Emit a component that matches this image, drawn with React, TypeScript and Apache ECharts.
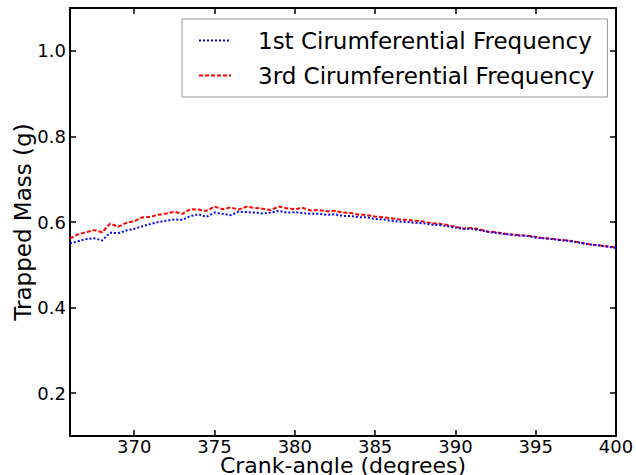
import React, { useEffect, useRef } from "react";
import * as echarts from "echarts";

const crankAngle = [
  366.0, 366.5, 367.0, 367.5, 368.0, 368.5, 369.0, 369.5, 370.0, 370.5,
  371.0, 371.5, 372.0, 372.5, 373.0, 373.5, 374.0, 374.5, 375.0, 375.5,
  376.0, 376.5, 377.0, 377.5, 378.0, 378.5, 379.0, 379.5, 380.0, 380.5,
  381.0, 381.5, 382.0, 382.5, 383.0, 383.5, 384.0, 384.5, 385.0, 385.5,
  386.0, 386.5, 387.0, 387.5, 388.0, 388.5, 389.0, 389.5, 390.0, 390.5,
  391.0, 391.5, 392.0, 392.5, 393.0, 393.5, 394.0, 394.5, 395.0, 395.5,
  396.0, 396.5, 397.0, 397.5, 398.0, 398.5, 399.0, 399.5, 400.0,
];

const firstCircumferential = [
  0.550, 0.555, 0.560, 0.562, 0.557, 0.575, 0.574, 0.580, 0.584, 0.590,
  0.595, 0.600, 0.603, 0.606, 0.605, 0.614, 0.618, 0.612, 0.622, 0.619,
  0.616, 0.624, 0.623, 0.622, 0.620, 0.622, 0.626, 0.622, 0.623, 0.621,
  0.619, 0.619, 0.617, 0.618, 0.614, 0.614, 0.611, 0.611, 0.607, 0.606,
  0.603, 0.601, 0.600, 0.598, 0.597, 0.594, 0.593, 0.590, 0.587, 0.584,
  0.584, 0.581, 0.577, 0.575, 0.572, 0.570, 0.568, 0.567, 0.564, 0.562,
  0.560, 0.558, 0.556, 0.553, 0.550, 0.547, 0.545, 0.542, 0.540,
];

const thirdCircumferential = [
  0.562, 0.571, 0.576, 0.581, 0.576, 0.596, 0.589, 0.598, 0.602, 0.611,
  0.612, 0.617, 0.620, 0.624, 0.619, 0.630, 0.629, 0.626, 0.636, 0.630,
  0.634, 0.629, 0.636, 0.633, 0.631, 0.628, 0.636, 0.632, 0.630, 0.633,
  0.627, 0.628, 0.625, 0.626, 0.622, 0.621, 0.617, 0.616, 0.613, 0.611,
  0.609, 0.606, 0.605, 0.603, 0.601, 0.597, 0.596, 0.593, 0.589, 0.585,
  0.586, 0.583, 0.578, 0.576, 0.573, 0.571, 0.569, 0.568, 0.565, 0.562,
  0.561, 0.558, 0.557, 0.554, 0.550, 0.547, 0.545, 0.543, 0.540,
];

const xTicks = [370, 375, 380, 385, 390, 395, 400];
const yTicks = [0.2, 0.4, 0.6, 0.8, 1.0];

const seriesNames = ["1st Cirumferential Frequency", "3rd Cirumferential Frequency"];

const FONT = "DejaVu Sans";

export default function App() {
  const ref = useRef<HTMLDivElement>(null);

  useEffect(() => {
    if (!ref.current) return;
    const chart = echarts.init(ref.current, null, { renderer: "svg" });

    const axisLine = { show: true, lineStyle: { color: "#000", width: 2 } };
    const tickIn = { show: true, inside: true, length: 6, lineStyle: { color: "#000", width: 1.5 } };

    chart.setOption({
      animation: false,
      backgroundColor: "#fff",
      grid: { left: 70, right: 20, top: 8, bottom: 39, containLabel: false, outerBoundsMode: "none" },
      legend: {
        left: 182,
        top: 19,
        orient: "vertical",
        padding: [10, 13, 10, 16],
        itemGap: 12,
        itemWidth: 32,
        itemHeight: 14,
        borderColor: "#999",
        borderWidth: 1,
        backgroundColor: "#fff",
        itemStyle: { opacity: 0 },
        textStyle: {
          fontFamily: FONT,
          fontSize: 23,
          color: "#000",
          lineHeight: 22,
          padding: [0, 0, 0, 22],
        },
        data: seriesNames,
      },
      xAxis: [
        {
          type: "value",
          min: 366,
          max: 400,
          position: "bottom",
          name: "Crank-angle (degrees)",
          nameLocation: "middle",
          nameGap: 20,
          nameMoveOverlap: false,
          nameTextStyle: { fontFamily: FONT, fontSize: 22, color: "#000", lineHeight: 18 },
          axisLine,
          axisTick: { ...tickIn, customValues: xTicks },
          axisLabel: {
            customValues: xTicks,
            fontFamily: FONT,
            fontSize: 18,
            lineHeight: 16,
            color: "#000",
            margin: 2,
            formatter: (v: number) => String(v),
          },
          splitLine: { show: false },
        },
        {
          type: "value",
          min: 366,
          max: 400,
          position: "top",
          axisLine,
          axisTick: { ...tickIn, customValues: xTicks },
          axisLabel: { show: false },
          splitLine: { show: false },
        },
      ],
      yAxis: [
        {
          type: "value",
          min: 0.1,
          max: 1.1,
          position: "left",
          name: "Trapped Mass (g)",
          nameLocation: "middle",
          nameGap: 36,
          nameRotate: 90,
          nameMoveOverlap: false,
          nameTextStyle: { fontFamily: FONT, fontSize: 23, color: "#000" },
          axisLine,
          axisTick: { ...tickIn, customValues: yTicks },
          axisLabel: {
            customValues: yTicks,
            fontFamily: FONT,
            fontSize: 18,
            color: "#000",
            margin: 4,
            formatter: (v: number) => v.toFixed(1),
          },
          splitLine: { show: false },
        },
        {
          type: "value",
          min: 0.1,
          max: 1.1,
          position: "right",
          axisLine,
          axisTick: { ...tickIn, customValues: yTicks },
          axisLabel: { show: false },
          splitLine: { show: false },
        },
      ],
      series: [
        {
          name: seriesNames[0],
          type: "line",
          xAxisIndex: 0,
          yAxisIndex: 0,
          symbol: "none",
          data: crankAngle.map((x, i) => [x, firstCircumferential[i]]),
          lineStyle: { color: "#0000ff", width: 2, type: [2, 2] },
          itemStyle: { color: "#0000ff" },
          z: 3,
        },
        {
          name: seriesNames[1],
          type: "line",
          xAxisIndex: 0,
          yAxisIndex: 0,
          symbol: "none",
          data: crankAngle.map((x, i) => [x, thirdCircumferential[i]]),
          lineStyle: { color: "#ff0000", width: 2, type: [4, 2] },
          itemStyle: { color: "#ff0000" },
          z: 2,
        },
      ],
    });

    return () => chart.dispose();
  }, []);

  return (
    <div style={{ position: "fixed", left: 0, top: 0, width: 636, height: 475, background: "#fff" }}>
      <div ref={ref} style={{ width: 636, height: 475 }} />
    </div>
  );
}
